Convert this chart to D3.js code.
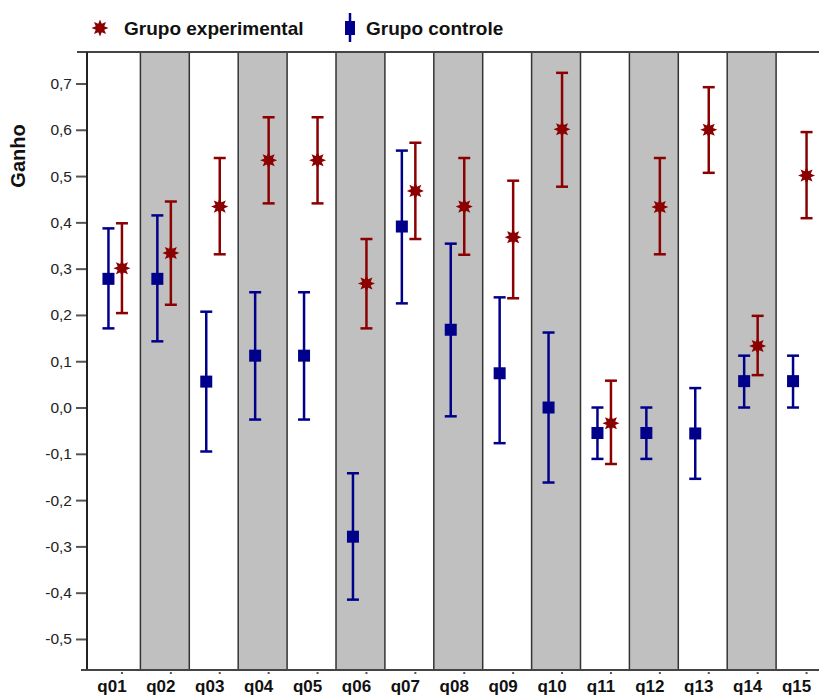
<!DOCTYPE html>
<html>
<head>
<meta charset="utf-8">
<script src="https://cdn.jsdelivr.net/npm/d3@7"></script>
<style>
  body { margin: 0; background: #fff; }
  svg { display: block; font-family: "Liberation Sans", Arial, sans-serif; }
</style>
</head>
<body>
<svg id="chart"></svg>
<script>
// Ganho por questão, grupo experimental x grupo controle (média e intervalo)
const categories = ['q01', 'q02', 'q03', 'q04', 'q05', 'q06', 'q07', 'q08', 'q09', 'q10', 'q11', 'q12', 'q13', 'q14', 'q15'];

const expMean = [0.301, 0.334, 0.434, 0.534, 0.534, 0.268, 0.468, 0.434, 0.368, 0.601, -0.034, 0.433, 0.600, 0.133, 0.501];
const expLow  = [0.204, 0.222, 0.331, 0.441, 0.441, 0.171, 0.364, 0.330, 0.236, 0.477, -0.122, 0.331, 0.507, 0.070, 0.409];
const expHigh = [0.398, 0.445, 0.539, 0.627, 0.627, 0.364, 0.572, 0.539, 0.490, 0.723, 0.058, 0.539, 0.692, 0.198, 0.595];

const ctrlMean = [0.278, 0.278, 0.056, 0.112, 0.112, -0.279, 0.391, 0.168, 0.074, 0.000, -0.055, -0.055, -0.056, 0.057, 0.057];
const ctrlLow  = [0.171, 0.143, -0.095, -0.026, -0.026, -0.415, 0.225, -0.019, -0.077, -0.162, -0.111, -0.111, -0.154, 0.000, 0.000];
const ctrlHigh = [0.387, 0.415, 0.207, 0.249, 0.249, -0.142, 0.555, 0.354, 0.238, 0.162, 0.000, 0.000, 0.042, 0.112, 0.112];

const yTicks = [-0.5, -0.4, -0.3, -0.2, -0.1, 0.0, 0.1, 0.2, 0.3, 0.4, 0.5, 0.6, 0.7];

const seriesNames = ['Grupo experimental', 'Grupo controle'];

const width = 819;
const height = 696;
const plotLeft = 87, plotTop = 52, plotBottom = 670;
const red = '#8b0000', blue = '#00008b';

const svg = d3.select('#chart').attr('width', width).attr('height', height);

const x = d3.scaleBand()
  .domain(categories)
  .range([91.5, 91.5 + 48.9 * categories.length])
  .padding(0);

const y = d3.scaleLinear()
  .domain([-0.567, 0.768])
  .range([plotBottom, plotTop]);

const cx = d => x(d) + x.bandwidth() / 2;
const ctrlOff = -7.5, expOff = 6;

// shaded columns
const plot = svg.append('g');
plot.append('clipPath').attr('id', 'clip')
  .append('rect').attr('x', plotLeft).attr('y', plotTop)
  .attr('width', width - plotLeft).attr('height', plotBottom - plotTop);
const cols = plot.append('g').attr('clip-path', 'url(#clip)');
cols.selectAll('rect.band')
  .data(categories.filter((d, i) => i % 2 === 1))
  .enter().append('rect')
  .attr('class', 'band')
  .attr('x', d => x(d))
  .attr('y', plotTop)
  .attr('width', x.bandwidth())
  .attr('height', plotBottom - plotTop)
  .attr('fill', '#c0c0c0');
cols.selectAll('line.sep')
  .data(categories.slice(1))
  .enter().append('line')
  .attr('class', 'sep')
  .attr('x1', d => x(d)).attr('x2', d => x(d))
  .attr('y1', plotTop).attr('y2', plotBottom)
  .attr('stroke', '#333').attr('stroke-width', 1.5);

// frame
svg.append('line').attr('x1', 77).attr('x2', width).attr('y1', plotTop).attr('y2', plotTop)
  .attr('stroke', '#444').attr('stroke-width', 2);

// y axis
const yAxis = svg.append('g')
  .attr('transform', `translate(${plotLeft},0)`)
  .call(d3.axisLeft(y).tickValues(yTicks).tickSize(11).tickPadding(4)
    .tickFormat(d => d3.format('.1f')(d).replace('.', ',').replace('−', '-')));
yAxis.select('.domain').remove();
yAxis.selectAll('.tick line').attr('stroke', '#555').attr('stroke-width', 2);
yAxis.selectAll('.tick text').attr('font-size', 15.5).attr('fill', '#222')
  .attr('font-family', '"Liberation Sans", Arial, sans-serif');
svg.append('line').attr('x1', plotLeft).attr('x2', plotLeft).attr('y1', plotTop).attr('y2', plotBottom)
  .attr('stroke', '#222').attr('stroke-width', 2);

// x axis
svg.append('line').attr('x1', 81).attr('x2', width).attr('y1', plotBottom).attr('y2', plotBottom)
  .attr('stroke', '#444').attr('stroke-width', 2);
svg.selectAll('rect.xdot')
  .data(categories)
  .enter().append('rect')
  .attr('class', 'xdot')
  .attr('x', d => cx(d) + expOff - 1).attr('y', plotBottom + 2)
  .attr('width', 2).attr('height', 2).attr('fill', '#555');
svg.selectAll('text.xlab')
  .data(categories)
  .enter().append('text')
  .attr('class', 'xlab')
  .attr('x', d => cx(d) - 4)
  .attr('y', 692)
  .attr('text-anchor', 'middle')
  .attr('font-size', 17).attr('font-weight', 'bold').attr('fill', '#111')
  .text(d => d);

svg.append('text')
  .attr('transform', 'translate(25,156) rotate(-90)')
  .attr('text-anchor', 'middle')
  .attr('font-size', 20).attr('font-weight', 'bold').attr('fill', '#111')
  .text('Ganho');

// star marker path (8 points)
const starPts = d3.range(16).map(i => [i * Math.PI / 8, i % 2 === 0 ? 8.5 : 4.6]);
const starPath = d3.lineRadial().curve(d3.curveLinearClosed)(starPts);

function errorBars(g, lo, hi, off, color) {
  const data = categories.map((c, i) => ({ c, lo: lo[i], hi: hi[i] }));
  g.selectAll(null).data(data).enter().append('line')
    .attr('x1', d => cx(d.c) + off).attr('x2', d => cx(d.c) + off)
    .attr('y1', d => y(d.hi)).attr('y2', d => y(d.lo))
    .attr('stroke', color).attr('stroke-width', 2.5);
  ['lo', 'hi'].forEach(k => {
    g.selectAll(null).data(data).enter().append('line')
      .attr('x1', d => cx(d.c) + off - 6).attr('x2', d => cx(d.c) + off + 6)
      .attr('y1', d => y(d[k])).attr('y2', d => y(d[k]))
      .attr('stroke', color).attr('stroke-width', 2.5);
  });
}

const marks = svg.append('g');
errorBars(marks, ctrlLow, ctrlHigh, ctrlOff, blue);
errorBars(marks, expLow, expHigh, expOff, red);

marks.selectAll('rect.ctrl')
  .data(categories)
  .enter().append('rect')
  .attr('class', 'ctrl')
  .attr('x', d => cx(d) + ctrlOff - 6)
  .attr('y', (d, i) => y(ctrlMean[i]) - 6)
  .attr('width', 12).attr('height', 12)
  .attr('fill', blue);

marks.selectAll('path.exp')
  .data(categories)
  .enter().append('path')
  .attr('class', 'exp')
  .attr('transform', (d, i) => `translate(${cx(d) + expOff},${y(expMean[i])})`)
  .attr('d', starPath)
  .attr('fill', red);

// legend
const lg = svg.append('g');
lg.append('path').attr('transform', 'translate(100,28)').attr('d', starPath).attr('fill', red);
lg.append('text').attr('x', 124).attr('y', 34.5)
  .attr('font-size', 19).attr('font-weight', 'bold').attr('fill', '#111')
  .text(seriesNames[0]);
lg.append('line').attr('x1', 350).attr('x2', 350).attr('y1', 13).attr('y2', 42)
  .attr('stroke', blue).attr('stroke-width', 2.5);
lg.append('rect').attr('x', 345).attr('y', 21).attr('width', 10).attr('height', 14).attr('fill', blue);
lg.append('text').attr('x', 366).attr('y', 34.5)
  .attr('font-size', 19).attr('font-weight', 'bold').attr('fill', '#111')
  .text(seriesNames[1]);
</script>
</body>
</html>
